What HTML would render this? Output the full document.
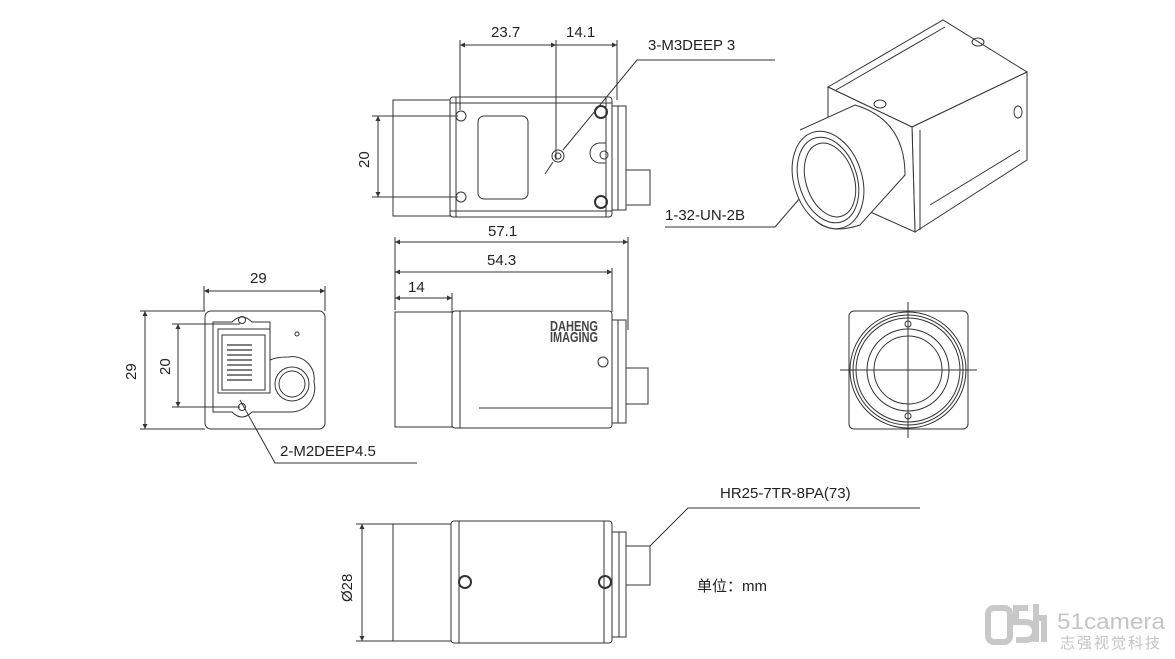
<!DOCTYPE html>
<html><head><meta charset="utf-8"><style>
html,body{margin:0;padding:0;background:#fff;width:1175px;height:659px;overflow:hidden}
svg{display:block}
text{font-family:"Liberation Sans","Noto Sans CJK SC",sans-serif;fill:#222;font-size:15px}
</style></head><body>
<svg width="1175" height="659" viewBox="0 0 1175 659" xmlns="http://www.w3.org/2000/svg">
<defs>
<marker id="a" viewBox="0 0 10 10" refX="10" refY="5" markerWidth="7" markerHeight="5" orient="auto-start-reverse"><path d="M0,0L10,5L0,10z" fill="#333"/></marker>
</defs>
<g stroke="#333" fill="none" stroke-width="1">

<!-- TOP VIEW -->
<rect x="393" y="100" width="57" height="116"/>
<rect x="450" y="97" width="162" height="120" rx="3"/>
<line x1="456" y1="97" x2="456" y2="217"/><line x1="606" y1="97" x2="606" y2="217"/>
<line x1="450" y1="103" x2="612" y2="103"/><line x1="450" y1="211" x2="612" y2="211"/>
<rect x="478" y="116" width="50" height="83" rx="6"/>
<circle cx="461" cy="116" r="5"/><circle cx="461" cy="197" r="5"/>
<circle cx="601" cy="112" r="6" stroke-width="2"/><circle cx="601" cy="202" r="6" stroke-width="2"/>
<circle cx="558" cy="156" r="6"/><circle cx="558" cy="156" r="3"/>
<path d="M606,143 h-6 a10,10 0 0,0 0,20 h6"/><circle cx="604" cy="155" r="4"/>
<rect x="612" y="106" width="14" height="104"/><line x1="618" y1="106" x2="618" y2="210"/>
<rect x="626" y="170" width="24" height="35"/>
<!-- dims -->
<line x1="460" y1="40" x2="460" y2="110"/><line x1="556" y1="40" x2="556" y2="160"/><line x1="617" y1="40" x2="617" y2="100"/>
<line x1="460" y1="45" x2="556" y2="45" marker-start="url(#a)" marker-end="url(#a)"/>
<line x1="556" y1="45" x2="617" y2="45" marker-end="url(#a)"/>
<line x1="372" y1="116" x2="458" y2="116"/><line x1="372" y1="197" x2="458" y2="197"/>
<line x1="378" y1="116" x2="378" y2="197" marker-start="url(#a)" marker-end="url(#a)"/>
<path d="M775,60 H637 L563,150" /><line x1="545" y1="174" x2="553" y2="162"/>
<path d="M665,227 H775 L800,198"/>
<line x1="395" y1="237" x2="395" y2="310"/><line x1="628" y1="237" x2="628" y2="330"/><line x1="612" y1="268" x2="612" y2="312"/><line x1="452" y1="293" x2="452" y2="312"/>
<line x1="395" y1="242" x2="628" y2="242" marker-start="url(#a)" marker-end="url(#a)"/>
<line x1="395" y1="272" x2="612" y2="272" marker-start="url(#a)" marker-end="url(#a)"/>
<line x1="395" y1="298" x2="452" y2="298" marker-start="url(#a)" marker-end="url(#a)"/>

<!-- SIDE VIEW -->
<rect x="395" y="312" width="57" height="115"/>
<rect x="452" y="311" width="160" height="117" rx="3"/>
<line x1="460" y1="311" x2="460" y2="428"/><line x1="479" y1="408" x2="612" y2="408"/>
<circle cx="603" cy="362" r="5"/>
<rect x="612" y="320" width="14" height="103"/><line x1="618" y1="320" x2="618" y2="423"/>
<rect x="626" y="368" width="22" height="36"/>

<!-- BACK VIEW -->
<rect x="205" y="311" width="120" height="118" rx="6"/>
<path d="M213,322 H232 Q242,312 252,322 H270 V360 Q276,357 288,357 A22,22 0 0,1 314,382 A24,24 0 0,1 290,412 H252 Q242,422 232,412 H213 Z"/>
<rect x="218" y="329" width="52" height="64"/>
<rect x="222" y="335" width="43" height="55"/>
<g stroke-width="1.2"><line x1="227" y1="345" x2="252" y2="345"/><line x1="227" y1="350" x2="252" y2="350"/><line x1="227" y1="355" x2="252" y2="355"/><line x1="227" y1="360" x2="252" y2="360"/><line x1="227" y1="365" x2="252" y2="365"/><line x1="227" y1="370" x2="252" y2="370"/><line x1="227" y1="375" x2="252" y2="375"/><line x1="227" y1="380" x2="252" y2="380"/></g>
<circle cx="242" cy="320" r="3.5"/><circle cx="242" cy="407" r="3.5"/><circle cx="297" cy="334" r="2"/>
<circle cx="292" cy="384" r="17"/><circle cx="292" cy="384" r="13"/>
<line x1="204" y1="286" x2="204" y2="311"/><line x1="325" y1="286" x2="325" y2="311"/>
<line x1="204" y1="291" x2="325" y2="291" marker-start="url(#a)" marker-end="url(#a)"/>
<line x1="140" y1="311" x2="205" y2="311"/><line x1="140" y1="429" x2="205" y2="429"/>
<line x1="145" y1="311" x2="145" y2="429" marker-start="url(#a)" marker-end="url(#a)"/>
<line x1="172" y1="324" x2="240" y2="324"/><line x1="172" y1="407" x2="240" y2="407"/>
<line x1="178" y1="324" x2="178" y2="407" marker-start="url(#a)" marker-end="url(#a)"/>
<path d="M417,463 H275 L240,400"/>

<!-- FRONT VIEW -->
<rect x="849" y="311" width="119" height="118" rx="5"/>
<circle cx="908" cy="370" r="58"/><circle cx="908" cy="370" r="55"/><circle cx="908" cy="370" r="52"/>
<circle cx="908" cy="370" r="41"/><circle cx="908" cy="370" r="34"/>
<circle cx="908" cy="324" r="3"/><circle cx="908" cy="416" r="3"/>
<line x1="840" y1="370" x2="977" y2="370"/><line x1="908" y1="302" x2="908" y2="438"/>

<!-- BOTTOM VIEW -->
<rect x="393" y="524" width="58" height="117"/>
<rect x="451" y="521" width="161" height="122" rx="3"/>
<line x1="459" y1="521" x2="459" y2="643"/><line x1="604" y1="521" x2="604" y2="643"/>
<circle cx="465" cy="582" r="6" stroke-width="2"/><circle cx="605" cy="582" r="6" stroke-width="2"/>
<rect x="612" y="532" width="14" height="105"/><line x1="619" y1="532" x2="619" y2="637"/>
<rect x="626" y="546" width="24" height="39"/>
<path d="M650,546 L688,508 H920"/>
<line x1="356" y1="524" x2="393" y2="524"/><line x1="356" y1="641" x2="393" y2="641"/>
<line x1="362" y1="524" x2="362" y2="641" marker-start="url(#a)" marker-end="url(#a)"/>

<!-- ISOMETRIC -->
<path d="M828,87 L943,20 L1027,72 L912,127 Z" fill="#fff"/>
<path d="M912,127 L1027,72 L1027,160 L915,232 Z" fill="#fff"/>
<path d="M828,87 L912,127 L915,232 L828,193 Z" fill="#fff"/>
<line x1="836" y1="90" x2="945" y2="27"/><line x1="920" y1="130" x2="920" y2="230"/>
<line x1="930" y1="205" x2="1020" y2="150"/>
<ellipse cx="978" cy="42" rx="6" ry="4"/><ellipse cx="880" cy="104" rx="6" ry="4"/><ellipse cx="1018" cy="112" rx="4" ry="6"/>
<path d="M800,130 L855,105 Q905,120 905,175 L860,225 Q830,235 815,220" fill="#fff"/>
<ellipse cx="828" cy="180" rx="34" ry="50" transform="rotate(-18 828 180)" fill="#fff"/>
<ellipse cx="828" cy="180" rx="29" ry="44" transform="rotate(-18 828 180)"/>
<ellipse cx="830" cy="180" rx="24" ry="38" transform="rotate(-18 830 180)"/>
</g>
<g font-size="14">
<text x="491" y="37">23.7</text><text x="566" y="37">14.1</text>
<text x="648" y="50">3-M3DEEP 3</text>
<text x="665" y="220">1-32-UN-2B</text>
<text x="488" y="236">57.1</text><text x="487" y="265">54.3</text><text x="408" y="292">14</text>
<text x="250" y="283">29</text>
<text x="280" y="456">2-M2DEEP4.5</text>
<text x="720" y="498">HR25-7TR-8PA(73)</text>
<text x="697" y="591">单位：mm</text>
<text transform="translate(369,168) rotate(-90)">20</text>
<text transform="translate(136,380) rotate(-90)">29</text>
<text transform="translate(170,375) rotate(-90)">20</text>
<text transform="translate(352,602) rotate(-90)">Ø28</text>
</g>
<text x="550" y="331" font-size="7" font-weight="bold" style="fill:#444" textLength="48" lengthAdjust="spacingAndGlyphs">DAHENG</text>
<text x="550" y="342" font-size="7" font-weight="bold" style="fill:#444" textLength="48" lengthAdjust="spacingAndGlyphs">IMAGING</text>
<!-- watermark -->
<g fill="none" stroke="#c8c8c8" stroke-width="6">
<rect x="988" y="608" width="22" height="34" rx="6"/>
<path d="M1028,608 h-12 v14 h10 a9,9 0 0,1 0,18 h-10"/>
<path d="M1036,604 v38 M1036,618 h8 v24"/>
</g>
<text transform="translate(1057,629) scale(1,1.5)" font-size="22" style="fill:#c4c4c4" textLength="108" lengthAdjust="spacingAndGlyphs">51camera</text>
<text x="1060" y="648" font-size="11" style="fill:#c4c4c4" textLength="100" lengthAdjust="spacing">志强视觉科技</text>
</svg>
</body></html>
